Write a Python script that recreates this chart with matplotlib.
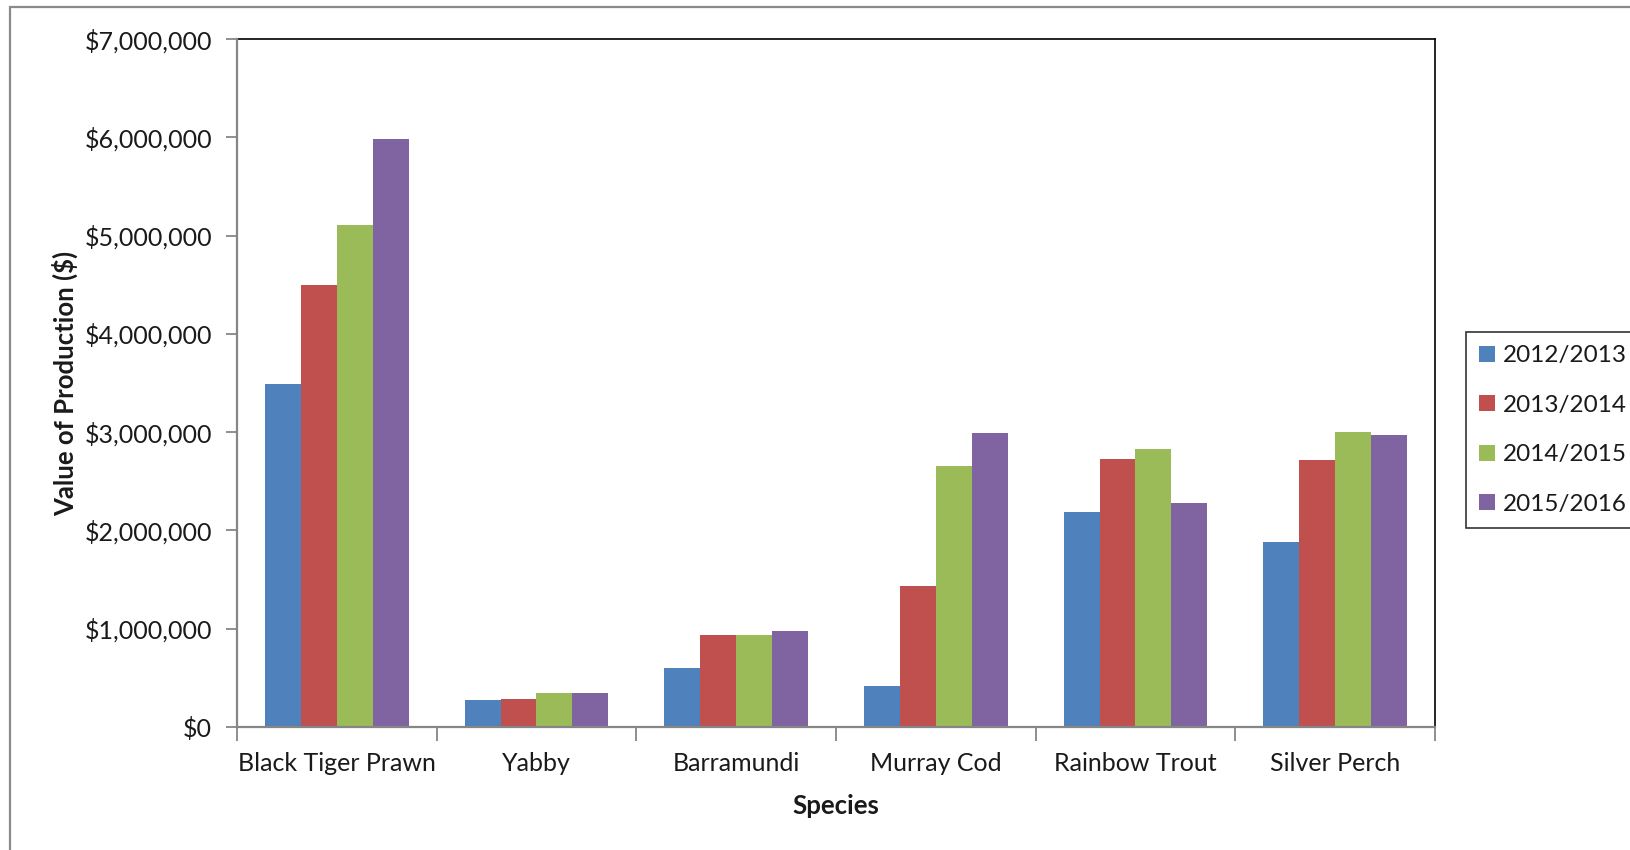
import matplotlib.pyplot as plt
from matplotlib.patches import Rectangle
from matplotlib.ticker import FuncFormatter, FixedLocator
import numpy as np

plt.rcParams['font.family'] = ['Lato', 'DejaVu Sans']

### Data ###

species = ['Black Tiger Prawn', 'Yabby', 'Barramundi', 'Murray Cod',
           'Rainbow Trout', 'Silver Perch']
seasons = ['2012/2013', '2013/2014', '2014/2015', '2015/2016']

v_2012 = [3490000, 276000, 596000, 414000, 2190000, 1880000]
v_2013 = [4500000, 287000, 933000, 1430000, 2730000, 2720000]
v_2014 = [5110000, 342000, 933000, 2660000, 2830000, 3000000]
v_2015 = [5980000, 342000, 972000, 2990000, 2275000, 2970000]

values = [v_2012, v_2013, v_2014, v_2015]
colors = ['#4F81BD', '#C0504D', '#9BBB59', '#8064A2']

### Figure ###

W, H = 1631, 850
fig = plt.figure(figsize=(W/100, H/100), dpi=100)
ax = fig.add_axes([237/W, 1-727/H, (1435-237)/W, (727-39)/H])

x = np.arange(len(species))
bw = 0.18
for i in range(len(seasons)):
	ax.bar(x + (i-1.5)*bw, values[i], bw, color=colors[i], label=seasons[i],
	       edgecolor='none', zorder=2)

ax.set_xlim(-0.5, len(species)-0.5)
ax.set_ylim(0, 7000000)
ax.set_yticks(np.arange(0, 7000001, 1000000))
ax.yaxis.set_major_formatter(FuncFormatter(lambda v, p: '${:,.0f}'.format(v)))
ax.set_xticks(x)
ax.set_xticklabels(species)
ax.xaxis.set_minor_locator(FixedLocator(np.arange(-0.5, len(species), 1.0)))

gray = '#868686'
ax.tick_params(axis='x', which='major', length=0, pad=18, labelsize=18,
               labelcolor='#1a1a1a')
ax.tick_params(axis='x', which='minor', length=10, color=gray, width=1.3)
ax.tick_params(axis='y', length=8, color=gray, width=1.3, pad=10,
               labelsize=18, labelcolor='#1a1a1a')

for s in ['left', 'bottom']:
	ax.spines[s].set_color(gray)
	ax.spines[s].set_linewidth(1.6)
	ax.spines[s].set_zorder(3)
for s in ['top', 'right']:
	ax.spines[s].set_color('black')
	ax.spines[s].set_linewidth(1.2)

ax.set_xlabel('Species', fontsize=18.5, fontweight='bold', color='#1a1a1a')
ax.xaxis.set_label_coords(0.5, -0.097)
ax.set_ylabel('Value of Production ($)', fontsize=18.5, fontweight='bold',
              color='#1a1a1a')
ax.yaxis.set_label_coords(-0.133, 0.499)

leg = ax.legend(loc='upper left', bbox_to_anchor=(1466/W, 1-332/H),
                bbox_transform=fig.transFigure, borderaxespad=0,
                fontsize=17.5, frameon=True, fancybox=False,
                handlelength=0.66, handleheight=0.66, handletextpad=0.3,
                labelspacing=1.17, borderpad=0.55)
leg.get_frame().set_edgecolor('black')
leg.get_frame().set_linewidth(1.2)
for t in leg.get_texts():
	t.set_color('#1a1a1a')

# chart area border (cut off at the right and bottom)
fig.patches.append(Rectangle((10/W, -0.1), 1.1, 1-7/H+0.1,
                             transform=fig.transFigure, fill=False,
                             edgecolor='#8a8a8a', linewidth=1.6))

fig.savefig('out.png', dpi=100)
